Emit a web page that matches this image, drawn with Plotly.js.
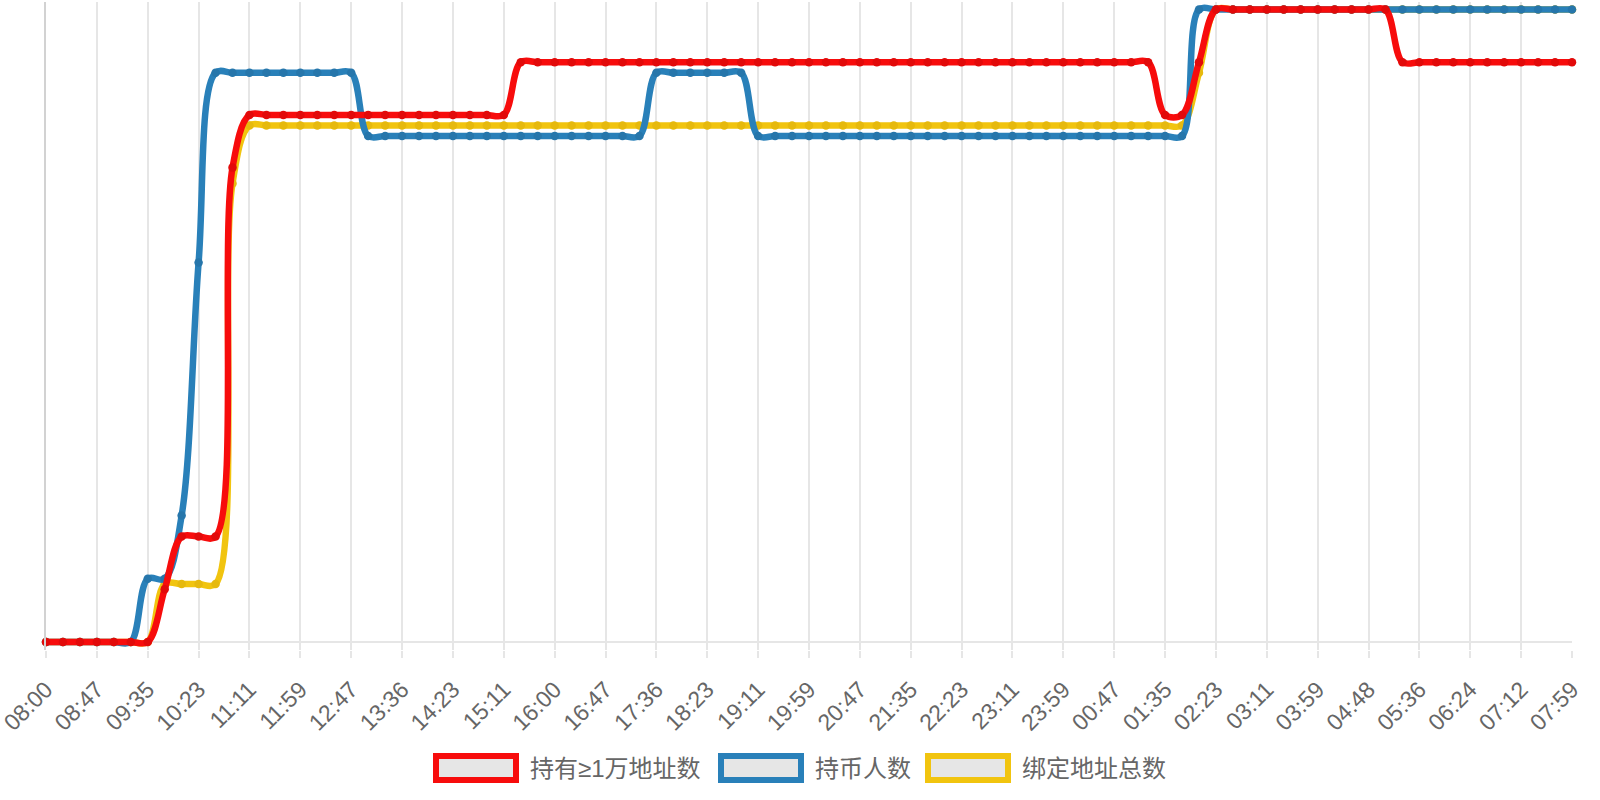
<!DOCTYPE html>
<html>
<head>
<meta charset="utf-8">
<script src="https://cdn.plot.ly/plotly-3.0.1.min.js"></script>
<style>
  html, body { margin: 0; padding: 0; background: #ffffff; }
  #chart { width: 1600px; height: 800px; }
</style>
</head>
<body>
<div id="chart"></div>
<script>
// ---- data ----
const times = [
  "08:00","08:16","08:31","08:47","09:03","09:19","09:35","09:51","10:07","10:23",
  "10:39","10:55","11:11","11:27","11:43","11:59","12:15","12:31","12:47","13:03",
  "13:20","13:36","13:51","14:07","14:23","14:39","14:55","15:11","15:27","15:44",
  "16:00","16:15","16:31","16:47","17:03","17:20","17:36","17:51","18:07","18:23",
  "18:39","18:55","19:11","19:27","19:43","19:59","20:15","20:31","20:47","21:03",
  "21:19","21:35","21:51","22:07","22:23","22:39","22:55","23:11","23:27","23:43",
  "23:59","00:15","00:31","00:47","01:03","01:19","01:35","01:51","02:07","02:23",
  "02:39","02:55","03:11","03:27","03:43","03:59","04:15","04:32","04:48","05:04",
  "05:20","05:36","05:52","06:08","06:24","06:40","06:56","07:12","07:28","07:43",
  "07:59"
];

const tickLabels = [
  "08:00","08:47","09:35","10:23","11:11","11:59","12:47","13:36","14:23","15:11",
  "16:00","16:47","17:36","18:23","19:11","19:59","20:47","21:35","22:23","23:11",
  "23:59","00:47","01:35","02:23","03:11","03:59","04:48","05:36","06:24","07:12",
  "07:59"
];

const seriesNames = ["持有≥1万地址数", "持币人数", "绑定地址总数"];

// 持有≥1万地址数
const holders10k = [
  0,0,0,0,0,0,0,10,20,20,
  20,90,100,100,100,100,100,100,100,100,
  100,100,100,100,100,100,100,100,110,110,
  110,110,110,110,110,110,110,110,110,110,
  110,110,110,110,110,110,110,110,110,110,
  110,110,110,110,110,110,110,110,110,110,
  110,110,110,110,110,110,100,100,110,120,
  120,120,120,120,120,120,120,120,120,120,
  110,110,110,110,110,110,110,110,110,110,
  110
];

// 持币人数
const holders = [
  0,0,0,0,0,0,12,12,24,72,
  108,108,108,108,108,108,108,108,108,96,
  96,96,96,96,96,96,96,96,96,96,
  96,96,96,96,96,96,108,108,108,108,
  108,108,96,96,96,96,96,96,96,96,
  96,96,96,96,96,96,96,96,96,96,
  96,96,96,96,96,96,96,96,120,120,
  120,120,120,120,120,120,120,120,120,120,
  120,120,120,120,120,120,120,120,120,120,
  120
];

// 绑定地址总数
const boundAddrs = [
  0,0,0,0,0,0,0,11,11,11,
  11,87,98,98,98,98,98,98,98,98,
  98,98,98,98,98,98,98,98,98,98,
  98,98,98,98,98,98,98,98,98,98,
  98,98,98,98,98,98,98,98,98,98,
  98,98,98,98,98,98,98,98,98,98,
  98,98,98,98,98,98,98,98,108,120,
  120,120,120,120,120,120,120,120,120,120,
  120,120,120,120,120,120,120,120,120,120,
  120
];

const colors = ["#f70c0c", "#2980b9", "#f1c40f"];
const dotColors = ["#e20a0a", "#2676ab", "#e6b90d"];

// ---- layout geometry ----
const W = 1600, H = 800;
const M = { l: 46, r: 28, t: 2, b: 150 };
const plotW = W - M.l - M.r, plotH = H - M.t - M.b;
const px = x => (x - M.l) / plotW;
const py = y => (H - M.b - y) / plotH;
// value 0 sits at 642px, value 120 at 9.5px
const unit = (642 - 9.5) / 120;
const yRange = [-(H - M.b - 642) / unit, 120 + (9.5 - M.t) / unit];

function lineTrace(y, idx) {
  return {
    type: "scatter",
    mode: "lines+markers",
    x: times,
    y: y,
    name: seriesNames[idx],
    showlegend: false,
    cliponaxis: false,
    line: { color: colors[idx], width: 6.5, shape: "spline", smoothing: 1 },
    marker: { size: 8.5, color: dotColors[idx], line: { width: 0 } },
    hoverinfo: "x+y+name"
  };
}

// draw order: yellow at bottom, red on top
const traces = [lineTrace(boundAddrs, 2), lineTrace(holders, 1), lineTrace(holders10k, 0)];

// custom legend boxes (Chart.js style)
const legendItems = [
  { box: [436, 516], text: 528 },
  { box: [721, 801], text: 813 },
  { box: [928, 1008], text: 1020 }
];
const shapes = [];
const annotations = [];
legendItems.forEach((it, i) => {
  shapes.push({
    type: "rect", xref: "paper", yref: "paper",
    x0: px(it.box[0]), x1: px(it.box[1]), y0: py(780), y1: py(756),
    line: { color: colors[i], width: 6 },
    fillcolor: "#e6e6e6"
  });
  annotations.push({
    xref: "paper", yref: "paper",
    x: px(it.text), y: py(768),
    xanchor: "left", yanchor: "middle",
    text: seriesNames[i], showarrow: false,
    font: { size: 24, color: "#666666", family: "Liberation Sans, Noto Sans CJK SC, sans-serif" }
  });
});

const layout = {
  width: W, height: H,
  margin: M,
  paper_bgcolor: "#ffffff",
  plot_bgcolor: "#ffffff",
  font: { family: "Liberation Sans, Noto Sans CJK SC, sans-serif", color: "#666666" },
  showlegend: false,
  xaxis: {
    type: "category",
    categoryorder: "array",
    categoryarray: times,
    range: [0, times.length - 1],
    tickmode: "array",
    tickvals: tickLabels,
    ticktext: tickLabels,
    tickangle: -45,
    tickfont: { size: 23, color: "#666666" },
    ticks: "outside", ticklen: 7, tickwidth: 2, tickcolor: "#e6e6e6",
    ticklabelstandoff: 9,
    showgrid: true, gridcolor: "#e6e6e6", gridwidth: 2,
    showline: false,
    zeroline: false,
    fixedrange: true
  },
  yaxis: {
    range: yRange,
    showticklabels: false,
    showgrid: false,
    zeroline: true, zerolinecolor: "#e6e6e6", zerolinewidth: 2,
    showline: true, linecolor: "#d2d2d2", linewidth: 2,
    ticks: "",
    fixedrange: true
  },
  shapes: shapes,
  annotations: annotations
};

Plotly.newPlot("chart", traces, layout, { displayModeBar: false });
</script>
</body>
</html>
